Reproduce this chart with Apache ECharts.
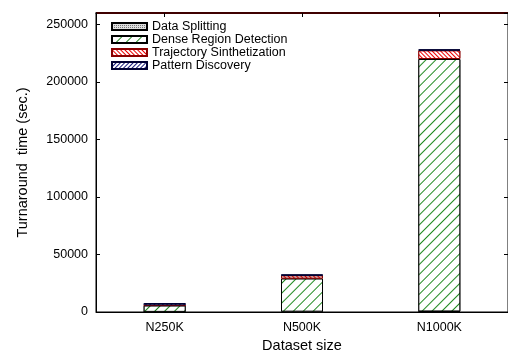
<!DOCTYPE html>
<html>
<head>
<meta charset="utf-8">
<script src="https://cdn.jsdelivr.net/npm/echarts@6/dist/echarts.min.js"></script>
<style>
  html, body { margin: 0; padding: 0; background: #fff; }
  #show_picture { width: 508px; height: 352px; }
</style>
</head>
<body>
<div id="show_picture"></div>
<script>
// values (sec.)
const categories = ['N250K', 'N500K', 'N1000K'];
const dataSplitting = [100, 300, 500];
const denseRegion = [5500, 28800, 219500];
const trajectory = [300, 2700, 7500];
const patternDiscovery = [1900, 600, 700];
const seriesNames = ['Data Splitting', 'Dense Region Detection', 'Trajectory Sinthetization', 'Pattern Discovery'];
const yMax = 260000;

const font = 'Liberation Sans, Arial, sans-serif';

let myChart = echarts.init(document.getElementById('show_picture'));

function hatch(color, rotation, gap, bg) {
    return {
        symbol: 'rect',
        symbolSize: 1,
        color: color,
        backgroundColor: bg || '#fff',
        dashArrayX: [1, 0],
        dashArrayY: [1, gap],
        rotation: rotation
    };
}

function bar(name, data, decal, border) {
    return {
        name: name,
        type: 'bar',
        stack: 'total',
        barWidth: 42,
        xAxisIndex: 0,
        yAxisIndex: 0,
        data: data,
        itemStyle: {
            color: '#fff',
            borderColor: border,
            borderWidth: 1,
            decal: decal
        }
    };
}

let option = {
    animation: false,
    textStyle: { fontFamily: font },
    grid: {
        left: 96, right: 0, top: 13, bottom: 40,
        outerBoundsMode: 'none',
        show: true, borderColor: '#000', borderWidth: 1
    },
    legend: {
        orient: 'vertical',
        left: 111,
        top: 20,
        padding: 0,
        icon: 'rect',
        itemWidth: 35,
        itemHeight: 7,
        itemGap: 0,
        itemTextGap: 8,
        textStyle: { fontFamily: font, fontSize: 12.5, lineHeight: 12.6, color: '#000' },
        data: seriesNames
    },
    xAxis: [{
        type: 'category',
        data: categories,
        name: 'Dataset size',
        nameLocation: 'middle',
        nameGap: 22,
        nameTextStyle: { fontSize: 14.5, color: '#000' },
        axisLine: { lineStyle: { color: '#000', width: 1 } },
        axisTick: { show: false },
        axisLabel: { fontSize: 12.5, color: '#000', margin: 9 }
    }, {
        type: 'category',
        data: categories,
        position: 'top',
        axisLine: { show: true, onZero: false, lineStyle: { color: '#000', width: 1.5 } },
        axisTick: { show: true, inside: true, alignWithLabel: true, length: 4, lineStyle: { color: '#000' } },
        axisLabel: { show: false }
    }],
    yAxis: [{
        type: 'value',
        min: 0,
        max: yMax,
        interval: 50000,
        name: 'Turnaround  time (sec.)',
        nameLocation: 'middle',
        nameGap: 66,
        nameTextStyle: { fontSize: 14.5, color: '#000' },
        axisLine: { show: true, lineStyle: { color: '#000', width: 1 } },
        axisTick: { show: true, inside: true, length: 4, lineStyle: { color: '#000' } },
        axisLabel: { fontSize: 12.5, color: '#000', margin: 8, showMaxLabel: false, formatter: (v) => String(v) },
        splitLine: { show: false }
    }, {
        type: 'value',
        min: 0,
        max: yMax,
        interval: 50000,
        position: 'right',
        axisLine: { show: true, lineStyle: { color: '#000', width: 1 } },
        axisTick: { show: true, inside: true, length: 4, lineStyle: { color: '#000' } },
        axisLabel: { show: false },
        splitLine: { show: false }
    }],
    graphic: [{
        type: 'rect',
        silent: true,
        left: 96,
        top: 12,
        shape: { width: 412, height: 2 },
        style: { fill: 'red' }
    }],
    series: [
        bar(seriesNames[0], dataSplitting, {
            symbol: 'rect', symbolSize: 1, color: '#777', backgroundColor: '#ddd',
            dashArrayX: [1, 1], dashArrayY: [1, 1], rotation: 0
        }, '#000'),
        bar(seriesNames[1], denseRegion, hatch('#1f8a1f', -Math.PI / 4, 6), '#000'),
        bar(seriesNames[2], trajectory, hatch('#ee0000', Math.PI / 4, 2), '#8b0000'),
        bar(seriesNames[3], patternDiscovery, hatch('#1a1a80', -Math.PI / 4, 2), '#000033')
    ]
};

option && myChart.setOption(option);
</script>
</body>
</html>
